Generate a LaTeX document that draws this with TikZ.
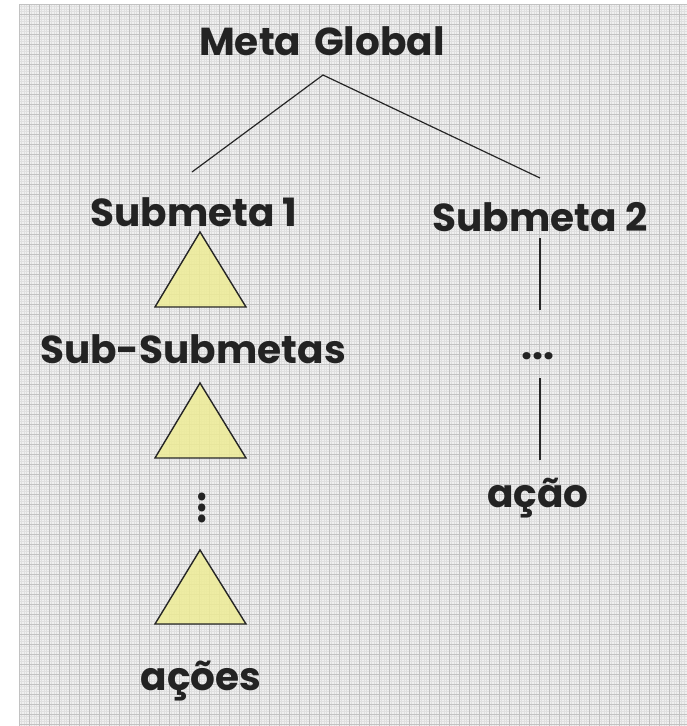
\documentclass[tikz,border=0pt]{standalone}
\usepackage{fontspec}
\setmainfont{Poppins}
\definecolor{triyel}{RGB}{238,236,150}
\definecolor{txt}{RGB}{35,35,35}
\begin{document}
\begin{tikzpicture}[x=1pt,y=-1pt,
  lbl/.style={font=\fontsize{39}{42}\selectfont\bfseries, text=txt, inner sep=0pt, anchor=base},
  tri/.style={draw=black!85, line width=1.4pt, fill=triyel, fill opacity=0.85, line join=miter},
  link/.style={draw=black!85, line width=1.2pt}]
\useasboundingbox (0,0) rectangle (687,726);
% background grid
\fill[gray!12] (19,4) rectangle (687,726);
\foreach \i in {0,2.5,...,667} \draw[gray!24, line width=0.5pt] (19+\i,4) -- (19+\i,726);
\foreach \j in {0,2.5,...,721} \draw[gray!24, line width=0.5pt] (19,4+\j) -- (687,4+\j);
\foreach \i in {0,10,...,660} \draw[gray!48, line width=0.7pt] (19+\i,4) -- (19+\i,726);
\foreach \j in {0,10,...,720} \draw[gray!48, line width=0.7pt] (19,4+\j) -- (687,4+\j);
% text nodes
\node[lbl] (meta) at (322,55) {Meta\hspace{0.12em} Global};
\node[lbl] (s1) at (194,226) {Submeta 1};
\node[lbl] (s2) at (540,231) {Submeta 2};
\node[lbl] (ss) at (193,363) {Sub-Submetas};
\node[lbl] (acoes) at (201,690) {ações};
\node[lbl, anchor=center] (rdots) at (538,356) {...};
\node[lbl] (acao) at (538,507) {ação};
\node[lbl, anchor=center, rotate=90] (vdots) at (202,508) {...};
% connectors
\coordinate (apex) at (323,75);
\coordinate (l1) at (192,172);
\coordinate (r1) at (540,178);
\draw[link] (l1) -- (apex) -- (r1);
\coordinate (v1a) at (540,238);
\coordinate (v1b) at (540,310);
\coordinate (v2a) at (540,378);
\coordinate (v2b) at (540,460);
\draw[link] (v1a) -- (v1b);
\draw[link] (v2a) -- (v2b);
% triangles
\draw[tri] (200,232) -- (246,307) -- (155,307) -- cycle;
\draw[tri] (200,383) -- (246,458) -- (155,458) -- cycle;
\draw[tri] (200,550) -- (246,624) -- (155,624) -- cycle;
\end{tikzpicture}
\end{document}
